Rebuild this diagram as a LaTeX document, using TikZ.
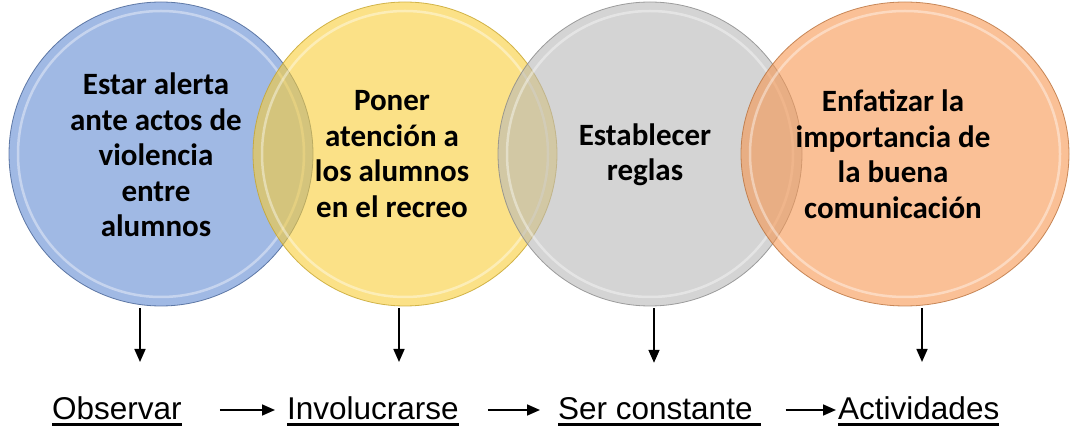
\documentclass[tikz,border=0pt]{standalone}
\usepackage{fontspec}
\setmainfont{Liberation Sans}
\newfontfamily\calibri{Carlito}
\usetikzlibrary{shapes.geometric, arrows.meta, positioning, calc}
\definecolor{azul}{RGB}{97,138,210}
\definecolor{amarillo}{RGB}{248,205,55}
\definecolor{gris}{RGB}{183,183,183}
\definecolor{naranja}{RGB}{247,150,80}
\newcommand{\subrayado}[1]{\setbox0\hbox{#1}%
  \rlap{\vrule width\wd0 height -4.2pt depth 7pt}\box0}
\tikzset{
  circulo/.style={circle, inner sep=0pt, minimum size=304pt, line width=0.8pt,
                  fill opacity=0.6, draw opacity=0.8},
  brillo/.style={draw=white, draw opacity=0.4, line width=2.5pt},
  texto/.style={align=center, inner sep=0pt,
                font=\calibri\bfseries\fontsize{31}{35.5}\selectfont},
  etiqueta/.style={anchor=base west, inner sep=0pt,
                   font=\fontsize{31.5}{36}\selectfont},
  flecha/.style={-{Triangle[length=13pt, width=11pt]}, line width=1.7pt}
}

\begin{document}
\begin{tikzpicture}[x=1pt, y=1pt]
  \useasboundingbox (0,0) rectangle (1071,434);
  % circulos
  \node[circulo, draw=azul!70!black, fill=azul] (c1) at (161,280) {};
  \draw[brillo] (c1.center) circle (143pt);
  \node[circulo, draw=amarillo!80!black, fill=amarillo] (c2) at (405,280) {};
  \draw[brillo] (c2.center) circle (143pt);
  \node[circulo, draw=gris!75!black, fill=gris] (c3) at (650,280) {};
  \draw[brillo] (c3.center) circle (143pt);
  \node[circulo, ellipse, minimum width=328pt, minimum height=304pt,
        draw=naranja!75!black, fill=naranja] (c4) at (905,280) {};
  \draw[brillo] (c4.center) ellipse (155pt and 143pt);
  % textos
  \node[texto] (t1) at (156,279) {Estar alerta\\ante actos de\\violencia\\entre\\alumnos};
  \node[texto] (t2) at (392,280) {Poner\\atención a\\los alumnos\\en el recreo};
  \node[texto] (t3) at (645,279) {Establecer\\reglas};
  \node[texto] (t4) at (893,280) {Enfatizar la\\importancia de\\la buena\\comunicación};
  % etiquetas
  \node[etiqueta] (o1) at (52,15)  {\subrayado{Observar}};
  \node[etiqueta] (o2) at (287,15) {\subrayado{Involucrarse}};
  \node[etiqueta] (o3) at (558,15) {\subrayado{Ser constante\ }};
  \node[etiqueta] (o4) at (838,15) {\subrayado{Actividades}};
  % flechas
  \foreach \i/\x in {1/140, 2/399, 3/654, 4/922}{
    \coordinate (x\i) at (\x,0);
    \draw[flecha, shorten <=2pt, shorten >=34pt] (x\i |- c\i.south) -- (x\i |- o\i.north);
  }
  \draw[flecha, shorten <=38pt, shorten >=12pt] ([yshift=9pt]o1.base east) -- ([yshift=9pt]o2.base west);
  \draw[flecha, shorten <=29pt, shorten >=18pt] ([yshift=9pt]o2.base east) -- ([yshift=9pt]o3.base west);
  \draw[flecha, shorten <=24pt, shorten >=2pt] ([yshift=9pt]o3.base east) -- ([yshift=9pt]o4.base west);
\end{tikzpicture}
\end{document}
